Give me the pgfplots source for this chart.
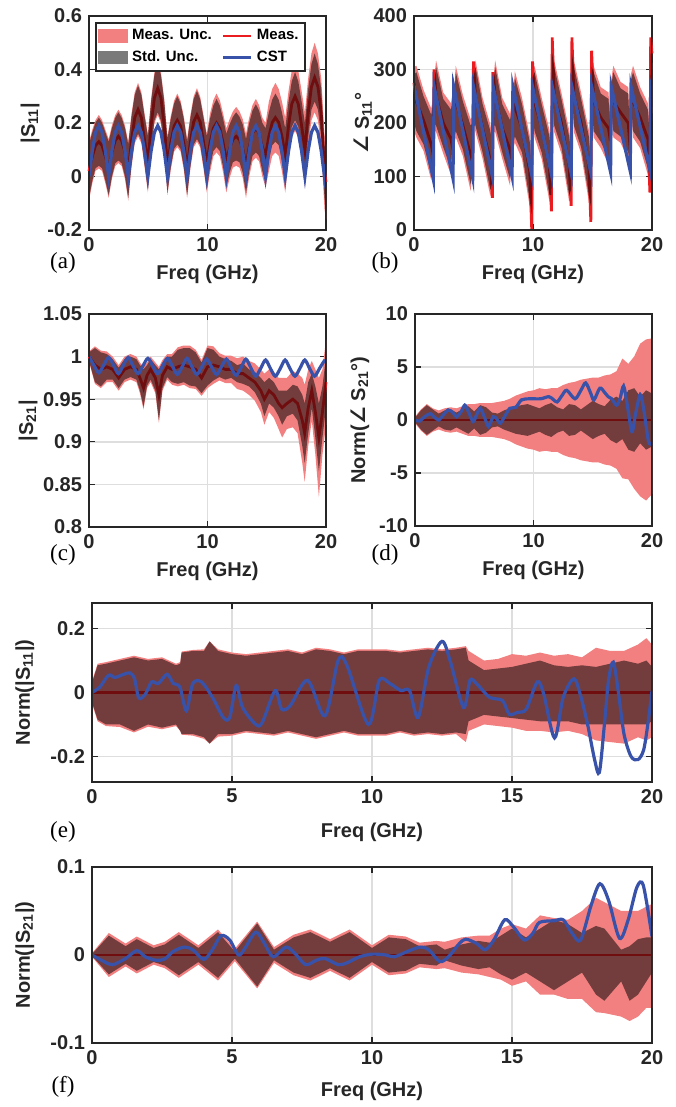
\documentclass[border=0pt]{standalone}
\usepackage{fontspec}
\setmainfont{Liberation Sans}
\newfontfamily\dejavu{DejaVu Sans}
\newfontfamily\tnr{Liberation Serif}
\usepackage{pgfplots}
\usepackage{pgfplotstable}
\pgfplotsset{compat=1.18}
\usepgfplotslibrary{fillbetween}

\definecolor{pinkc}{RGB}{242,128,128}
\definecolor{grayc}{RGB}{122,122,122}
\definecolor{redc}{RGB}{235,28,32}
\definecolor{bluec}{RGB}{55,82,168}
\definecolor{gridc}{RGB}{222,222,222}
\definecolor{axc}{RGB}{38,38,38}

\pgfplotsset{
  sp/.style={
    scale only axis, anchor=south west,
    xmin=0, xmax=20,
    axis line style={line width=1pt, axc},
    tick align=inside, major tick length=3pt,
    every tick/.style={line width=0.6pt, axc},
    grid=major, major grid style={line width=0.8pt, gridc},
    tick label style={font=\fontsize{10}{12}\selectfont\bfseries, text=axc},
    label style={font=\fontsize{10}{12}\selectfont\bfseries, text=axc},
    /pgf/number format/assume math mode=true,
    xlabel={Freq (GHz)},
    xlabel style={at={(axis description cs:0.5,0)}, anchor=center, yshift=-22pt},
  },
  meas/.style={line width=1.4pt, redc, forget plot, on layer=pre main},
  cst/.style={line width=1.6pt, bluec, forget plot},
}

% pink band, red mean, gray band (multiplied), drawn from a table
\newcommand\pinkband[2]{%
  \addplot[draw=none, forget plot, name path=#2PU] table[x=x,y=pu]{#1};
  \addplot[draw=none, forget plot, name path=#2PL] table[x=x,y=pl]{#1};
  \addplot[draw=none, forget plot, name path=#2GU] table[x=x,y=gu]{#1};
  \addplot[draw=none, forget plot, name path=#2GL] table[x=x,y=gl]{#1};
  \addplot[pinkc, draw=none, forget plot] fill between[of=#2PU and #2PL];
}
\newcommand\grayband[1]{%
  \addplot[grayc, draw=none, forget plot, blend mode=multiply] fill between[of=#1GU and #1GL];
}
\newcommand\frameit{\draw[axc, line width=1pt] (rel axis cs:0,0) rectangle (rel axis cs:1,1);}

\pgfplotstableread{
x pu gu m gl pl
0.00 0.13 0.12 0.02 -0.08 -0.09
0.28 0.175 0.165 0.075 -0.015 -0.025
0.55 0.211 0.201 0.116 0.031 0.021
0.83 0.23 0.22 0.13 0.04 0.03
1.10 0.211 0.201 0.116 0.031 0.021
1.38 0.175 0.165 0.075 -0.015 -0.025
1.66 0.14 0.13 0.03 -0.07 -0.08
1.93 0.19 0.18 0.09 0.00 -0.01
2.21 0.229 0.219 0.134 0.049 0.039
2.48 0.25 0.24 0.15 0.06 0.05
2.76 0.229 0.219 0.134 0.049 0.039
3.04 0.19 0.18 0.09 0.00 -0.01
3.31 0.13 0.12 0.02 -0.08 -0.09
3.59 0.235 0.225 0.135 0.045 0.035
3.86 0.315 0.305 0.22 0.135 0.125
4.14 0.35 0.34 0.25 0.16 0.15
4.42 0.315 0.305 0.22 0.135 0.125
4.69 0.235 0.225 0.135 0.045 0.035
4.97 0.16 0.15 0.05 -0.05 -0.06
5.24 0.29 0.28 0.19 0.10 0.09
5.52 0.389 0.379 0.294 0.209 0.199
5.80 0.43 0.42 0.33 0.24 0.23
6.07 0.389 0.379 0.294 0.209 0.199
6.35 0.29 0.28 0.19 0.10 0.09
6.62 0.15 0.14 0.04 -0.06 -0.07
6.90 0.225 0.215 0.125 0.035 0.025
7.18 0.283 0.273 0.188 0.103 0.093
7.45 0.31 0.30 0.21 0.12 0.11
7.73 0.283 0.273 0.188 0.103 0.093
8.00 0.225 0.215 0.125 0.035 0.025
8.28 0.14 0.13 0.03 -0.07 -0.08
8.56 0.23 0.22 0.13 0.04 0.03
8.83 0.299 0.289 0.204 0.119 0.109
9.11 0.33 0.32 0.23 0.14 0.13
9.38 0.299 0.289 0.204 0.119 0.109
9.66 0.23 0.22 0.13 0.04 0.03
9.94 0.16 0.15 0.05 -0.05 -0.06
10.21 0.235 0.215 0.125 0.035 0.015
10.49 0.285 0.265 0.18 0.095 0.075
10.76 0.31 0.29 0.20 0.11 0.09
11.04 0.285 0.265 0.18 0.095 0.075
11.32 0.235 0.215 0.125 0.035 0.015
11.59 0.18 0.16 0.06 -0.04 -0.06
11.87 0.215 0.195 0.105 0.015 -0.005
12.14 0.243 0.223 0.138 0.053 0.033
12.42 0.26 0.24 0.15 0.06 0.04
12.70 0.243 0.223 0.138 0.053 0.033
12.97 0.215 0.195 0.105 0.015 -0.005
13.25 0.16 0.14 0.04 -0.06 -0.08
13.52 0.22 0.20 0.11 0.02 0.00
13.80 0.267 0.247 0.162 0.077 0.057
14.08 0.29 0.27 0.18 0.09 0.07
14.35 0.267 0.247 0.162 0.077 0.057
14.63 0.22 0.20 0.11 0.02 0.00
14.90 0.20 0.18 0.08 -0.02 -0.04
15.18 0.28 0.24 0.15 0.06 0.02
15.46 0.327 0.287 0.202 0.117 0.077
15.73 0.35 0.31 0.22 0.13 0.09
16.01 0.327 0.287 0.202 0.117 0.077
16.28 0.28 0.24 0.15 0.06 0.02
16.56 0.22 0.18 0.08 -0.02 -0.06
16.84 0.32 0.28 0.19 0.10 0.06
17.11 0.396 0.356 0.271 0.186 0.146
17.39 0.43 0.39 0.30 0.21 0.17
17.66 0.396 0.356 0.271 0.186 0.146
17.94 0.32 0.28 0.19 0.10 0.06
18.22 0.24 0.20 0.10 0.00 -0.04
18.49 0.365 0.325 0.235 0.145 0.105
18.77 0.46 0.42 0.335 0.25 0.21
19.04 0.50 0.46 0.37 0.28 0.24
19.32 0.46 0.42 0.335 0.25 0.21
19.60 0.365 0.325 0.235 0.145 0.105
19.87 0.16 0.12 0.02 -0.08 -0.12
20.00 0.12 0.08 -0.02 -0.12 -0.16
}\tA

\pgfplotstableread{
x pu gu m gl pl
0.000 305 290 275 200 185
0.200 307 295 240 185 173
0.800 262 250 205 160 148
1.450 227 215 160 105 93
1.620 252 240 140 170 158
1.685 282 270 300 200 188
1.855 317 305 250 195 183
2.455 257 245 200 155 143
3.105 237 225 170 115 103
3.275 262 250 150 180 168
3.340 247 235 265 165 153
3.510 307 295 240 185 173
4.110 252 240 195 150 138
4.760 207 195 140 85 73
4.930 212 200 100 130 118
4.995 297 285 315 215 203
5.165 317 305 250 195 183
5.765 247 235 190 145 133
6.415 197 185 130 75 63
6.585 172 160 60 90 78
6.650 277 265 295 195 183
6.820 317 305 250 195 183
7.420 247 235 190 145 133
8.070 217 205 150 95 83
8.240 242 230 130 160 148
8.305 242 230 260 160 148
8.475 297 285 230 175 163
9.075 247 235 190 145 133
9.725 177 165 110 55 43
9.895 112 100 0 30 18
9.960 297 285 315 215 203
10.130 307 295 240 185 173
10.730 247 235 190 145 133
11.380 187 175 120 65 53
11.550 147 135 35 65 53
11.615 342 330 360 260 248
11.785 317 305 250 195 183
12.385 257 245 200 155 143
13.035 187 175 120 65 53
13.205 157 145 45 75 63
13.270 342 330 360 260 248
13.440 317 305 250 195 183
14.040 257 245 200 155 143
14.690 187 175 120 65 53
14.860 127 115 15 45 33
14.925 317 305 335 235 223
15.095 307 295 240 185 173
15.695 267 255 210 165 153
16.345 257 245 190 135 123
16.515 197 185 165 145 133
16.580 282 270 250 230 218
16.750 307 295 240 185 173
17.350 277 265 220 175 163
18.000 267 255 200 145 133
18.170 182 170 150 130 118
18.235 292 280 260 240 228
18.405 307 295 240 185 173
19.005 267 255 210 165 153
19.655 237 225 170 115 103
19.825 182 170 70 100 88
19.890 342 330 360 260 248
20.000 312 300 330 230 218
}\tB

\pgfplotstableread{
x pu gu m gl pl
0 1.006 1.005 1.0 0.995 0.994
0.5 1.012 1.01 0.99 0.97 0.968
1.0 1.007 1.005 0.985 0.965 0.963
1.5 1.006 1.003 0.988 0.973 0.97
2.0 1.0 0.997 0.985 0.973 0.97
2.5 0.99 0.987 0.975 0.963 0.96
3.0 1.0 0.997 0.985 0.973 0.97
3.5 1.003 1.0 0.988 0.976 0.973
4.0 1.0 0.997 0.985 0.973 0.97
4.3 0.993 0.99 0.975 0.96 0.957
4.6 0.988 0.985 0.963 0.941 0.938
4.9 0.993 0.99 0.978 0.966 0.963
5.2 1.0 0.997 0.985 0.973 0.97
5.6 0.993 0.99 0.975 0.96 0.957
5.9 0.988 0.985 0.955 0.925 0.922
6.2 0.996 0.993 0.978 0.963 0.96
6.6 1.003 1.0 0.988 0.976 0.973
7.0 1.003 1.0 0.985 0.97 0.967
7.5 1.011 1.008 0.988 0.968 0.965
8.0 1.013 1.01 0.99 0.97 0.967
8.5 1.013 1.01 0.988 0.966 0.963
9.0 1.008 1.005 0.985 0.965 0.962
9.5 0.996 0.993 0.975 0.957 0.954
10.0 1.013 1.01 0.988 0.966 0.963
10.5 1.012 1.008 0.99 0.972 0.968
11.0 1.004 1.0 0.988 0.976 0.972
11.5 1.001 0.997 0.985 0.973 0.969
12.0 1.001 0.995 0.985 0.975 0.969
12.5 0.998 0.99 0.98 0.97 0.962
13.0 1.0 0.992 0.98 0.968 0.96
13.5 0.995 0.985 0.975 0.965 0.955
14.0 0.992 0.982 0.97 0.958 0.948
14.5 0.985 0.975 0.96 0.945 0.935
14.8 0.98 0.97 0.95 0.93 0.92
15.2 0.985 0.975 0.96 0.945 0.935
15.6 0.982 0.97 0.955 0.94 0.928
16.0 0.975 0.96 0.945 0.93 0.915
16.3 0.975 0.96 0.94 0.92 0.905
16.7 0.975 0.96 0.945 0.93 0.915
17.2 0.983 0.967 0.95 0.933 0.917
17.6 0.98 0.965 0.945 0.925 0.91
18.0 0.975 0.955 0.925 0.895 0.875
18.2 0.967 0.945 0.91 0.875 0.853
18.5 0.985 0.97 0.94 0.91 0.895
18.8 0.995 0.98 0.96 0.94 0.925
19.1 0.985 0.965 0.935 0.905 0.885
19.4 0.975 0.945 0.905 0.865 0.835
19.7 0.985 0.965 0.935 0.905 0.885
20.0 1.02 1.0 0.97 0.94 0.92
}\tC

\pgfplotstableread{
x pu gu gl pl
0 0.3 0.2 -0.2 -0.3
0.5 1.0 0.9 -0.9 -1.0
1 1.5 1.4 -1.4 -1.5
1.5 1.1 1.0 -1.0 -1.1
2 0.9 0.6 -0.6 -0.9
2.5 1.1 0.9 -0.9 -1.1
3 1.2 1.0 -1.0 -1.2
3.5 1.1 0.7 -0.7 -1.1
4 1.3 1.0 -1.0 -1.3
4.5 1.5 1.3 -1.3 -1.5
5 1.5 0.8 -0.8 -1.5
5.5 1.6 1.4 -1.4 -1.6
6 1.6 1.2 -1.2 -1.6
6.5 1.6 0.7 -0.7 -1.6
7 1.7 0.6 -0.6 -1.7
7.5 1.8 0.9 -0.9 -1.8
8 2.0 1.1 -1.1 -2.0
8.5 2.3 1.3 -1.3 -2.3
9 2.5 1.4 -1.4 -2.5
9.5 2.7 1.5 -1.5 -2.7
10 2.8 1.3 -1.3 -2.8
10.5 3.0 1.1 -1.1 -3.0
11 2.9 1.4 -1.4 -2.9
11.5 3.0 1.6 -1.6 -3.0
12 3.0 1.2 -1.2 -3.0
12.5 3.3 1.0 -1.0 -3.3
13 3.5 1.5 -1.5 -3.5
13.5 3.6 1.4 -1.4 -3.6
14 3.8 1.0 -1.0 -3.8
14.5 3.9 1.4 -1.4 -3.9
15 4.0 1.8 -1.8 -4.0
15.5 4.0 1.5 -1.5 -4.0
16 4.2 1.3 -1.3 -4.2
16.5 4.3 1.9 -1.9 -4.3
17 4.6 2.2 -2.2 -4.6
17.5 5.8 1.8 -1.8 -5.5
18 5.3 2.8 -2.8 -5.6
18.5 6.0 3.0 -3.0 -6.5
19 7.2 2.2 -2.2 -7.2
19.5 7.6 2.8 -2.8 -7.6
20 7.7 2.5 -2.5 -7.0
}\tD

\pgfplotstableread{
x pu gu gl pl
0 0.035 0.03 -0.03 -0.035
0.2 0.09 0.085 -0.085 -0.09
0.5 0.095 0.09 -0.1 -0.105
1.0 0.105 0.1 -0.1 -0.108
1.5 0.115 0.11 -0.12 -0.125
2.0 0.105 0.1 -0.1 -0.107
2.5 0.11 0.105 -0.11 -0.115
3.0 0.09 0.085 -0.1 -0.105
3.15 0.095 0.09 -0.12 -0.12
3.2 0.128 0.125 -0.13 -0.132
3.6 0.133 0.13 -0.13 -0.135
4.0 0.135 0.13 -0.14 -0.145
4.2 0.16 0.16 -0.16 -0.16
4.5 0.135 0.13 -0.13 -0.138
5.0 0.125 0.12 -0.13 -0.135
5.5 0.12 0.115 -0.12 -0.125
6.0 0.125 0.12 -0.125 -0.13
6.5 0.13 0.125 -0.13 -0.135
7.0 0.135 0.13 -0.12 -0.125
7.5 0.125 0.12 -0.13 -0.135
8.0 0.14 0.135 -0.14 -0.145
8.5 0.135 0.13 -0.13 -0.135
9.0 0.125 0.12 -0.12 -0.125
9.5 0.135 0.13 -0.13 -0.135
10.0 0.135 0.13 -0.13 -0.135
10.5 0.135 0.13 -0.13 -0.135
11.0 0.13 0.125 -0.12 -0.125
11.5 0.135 0.13 -0.13 -0.135
12.0 0.14 0.135 -0.125 -0.13
12.5 0.135 0.13 -0.13 -0.135
13.0 0.14 0.135 -0.125 -0.13
13.35 0.145 0.14 -0.13 -0.155
13.45 0.13 0.1 -0.09 -0.12
14.0 0.1 0.07 -0.07 -0.1
14.5 0.105 0.075 -0.075 -0.105
15.0 0.12 0.08 -0.08 -0.11
15.5 0.115 0.09 -0.085 -0.12
16.0 0.125 0.1 -0.09 -0.12
16.5 0.115 0.085 -0.09 -0.125
17.0 0.12 0.08 -0.09 -0.12
17.5 0.11 0.085 -0.1 -0.13
18.0 0.14 0.08 -0.1 -0.15
18.5 0.13 0.09 -0.1 -0.155
19.0 0.13 0.1 -0.1 -0.16
19.5 0.15 0.09 -0.1 -0.14
19.8 0.17 0.1 -0.1 -0.15
20.0 0.15 0.08 -0.09 -0.14
}\tE

\pgfplotstableread{
x pu gu gl pl
0 0.002 0.001 -0.001 -0.002
0.6 0.025 0.022 -0.022 -0.025
1.2 0.013 0.01 -0.01 -0.013
1.6 0.021 0.018 -0.018 -0.021
2.2 0.011 0.008 -0.008 -0.011
2.6 0.015 0.012 -0.012 -0.015
3.1 0.026 0.023 -0.023 -0.026
3.8 0.011 0.008 -0.008 -0.011
4.5 0.029 0.026 -0.026 -0.029
5.1 0.007 0.004 -0.004 -0.007
5.9 0.038 0.036 -0.036 -0.038
6.5 0.009 0.006 -0.006 -0.009
7.2 0.023 0.02 -0.02 -0.023
7.8 0.029 0.026 -0.026 -0.029
8.5 0.018 0.015 -0.015 -0.018
9.2 0.029 0.026 -0.026 -0.029
10.0 0.011 0.008 -0.008 -0.011
10.6 0.023 0.02 -0.02 -0.023
11.2 0.021 0.018 -0.018 -0.021
11.7 0.014 0.01 -0.01 -0.014
12.3 0.016 0.012 -0.012 -0.016
12.6 0.015 0.006 -0.006 -0.015
13.2 0.02 0.012 -0.012 -0.02
13.8 0.022 0.016 -0.016 -0.022
14.2 0.022 0.014 -0.014 -0.025
14.6 0.03 0.022 -0.022 -0.028
15.0 0.035 0.03 -0.028 -0.035
15.5 0.03 0.02 -0.02 -0.03
16.0 0.045 0.03 -0.03 -0.045
16.5 0.042 0.04 -0.04 -0.045
17.0 0.04 0.035 -0.03 -0.05
17.5 0.05 0.025 -0.02 -0.05
18.0 0.065 0.033 -0.045 -0.065
18.3 0.06 0.03 -0.052 -0.066
18.9 0.05 0.006 -0.03 -0.07
19.2 0.05 0.01 -0.052 -0.075
19.5 0.05 0.018 -0.045 -0.07
19.8 0.055 0.02 -0.03 -0.06
20.0 0.058 0.02 -0.02 -0.06
}\tF

\begin{document}
\begin{tikzpicture}
\path (0,0) rectangle (337.5pt,553.5pt);

% (a) |S11|
\begin{axis}[sp, at={(44.5pt,438.5pt)}, width=118.5pt, height=107pt,
  ymin=-0.2, ymax=0.6, ytick={-0.2,0,0.2,0.4,0.6}, xtick={0,10,20},
  ylabel={|S\textsubscript{11}|},
  ylabel style={at={(axis description cs:-0.249,0.5)}, anchor=center},
  legend columns=2,
  legend style={at={(0.025,0.972)}, anchor=north west, draw=axc, line width=0.9pt,
    fill=white, font=\fontsize{7.5}{8.5}\selectfont\bfseries, inner sep=1.2pt,
    /tikz/every even column/.append style={column sep=3pt}},
  legend cell align=left]
\pinkband{\tA}{a}
\addplot[meas] table[x=x,y=m]{\tA};
\grayband{a}
\addplot[cst] coordinates {
(0.00,0) (0.28,0.095) (0.55,0.165) (0.83,0.19) (1.10,0.165) (1.38,0.095) (1.66,0)
(1.93,0.095) (2.21,0.165) (2.48,0.19) (2.76,0.165) (3.04,0.095) (3.31,0)
(3.59,0.095) (3.86,0.165) (4.14,0.19) (4.42,0.165) (4.69,0.095) (4.97,0)
(5.24,0.095) (5.52,0.165) (5.80,0.19) (6.07,0.165) (6.35,0.095) (6.62,0)
(6.90,0.095) (7.18,0.165) (7.45,0.19) (7.73,0.165) (8.00,0.095) (8.28,0)
(8.56,0.095) (8.83,0.165) (9.11,0.19) (9.38,0.165) (9.66,0.095) (9.94,0)
(10.21,0.095) (10.49,0.165) (10.76,0.19) (11.04,0.165) (11.32,0.095) (11.59,0)
(11.87,0.095) (12.14,0.165) (12.42,0.19) (12.70,0.165) (12.97,0.095) (13.25,0)
(13.52,0.095) (13.80,0.165) (14.08,0.19) (14.35,0.165) (14.63,0.095) (14.90,0)
(15.18,0.095) (15.46,0.165) (15.73,0.19) (16.01,0.165) (16.28,0.095) (16.56,0)
(16.84,0.095) (17.11,0.165) (17.39,0.19) (17.66,0.165) (17.94,0.095) (18.22,0)
(18.49,0.095) (18.77,0.165) (19.04,0.19) (19.32,0.165) (19.60,0.095) (19.87,0)
(20.00,0.045)};
\addlegendimage{legend image code/.code={\fill[pinkc] (0pt,-3pt) rectangle (14pt,3pt);}}
\addlegendentry{Meas. Unc.}
\addlegendimage{legend image code/.code={\draw[redc, line width=1.4pt] (0pt,0pt) -- (14pt,0pt);}}
\addlegendentry{Meas.}
\addlegendimage{legend image code/.code={\fill[grayc] (0pt,-3pt) rectangle (14pt,3pt);}}
\addlegendentry{Std. Unc.}
\addlegendimage{legend image code/.code={\draw[bluec, line width=1.6pt] (0pt,0pt) -- (14pt,0pt);}}
\addlegendentry{CST}
\frameit
\end{axis}

% (b) angle S11
\begin{axis}[sp, at={(207pt,438.5pt)}, width=119pt, height=107pt,
  ymin=0, ymax=400, ytick={0,100,200,300,400}, xtick={0,10,20},
  ylabel={{\dejavu\bfseries ∠} S\textsubscript{11}°},
  ylabel style={at={(axis description cs:-0.214,0.5)}, anchor=center}]
\pinkband{\tB}{b}
\addplot[meas] table[x=x,y=m]{\tB};
\grayband{b}
\addplot[cst] coordinates {
(0,270) (1.62,95) (1.69,268) (3.28,96) (3.34,268) (4.93,97) (5.00,268)
(6.59,99) (6.65,268) (8.24,100) (8.31,268) (9.90,102) (9.96,268)
(11.55,104) (11.62,268) (13.21,106) (13.27,268) (14.86,107) (14.93,268)
(16.52,108) (16.58,268) (18.17,110) (18.24,268) (19.83,112) (19.89,268) (20,258)};
\frameit
\end{axis}

% (c) |S21|
\begin{axis}[sp, at={(44.5pt,290pt)}, width=118.5pt, height=106.5pt,
  ymin=0.8, ymax=1.05, ytick={0.8,0.85,0.9,0.95,1,1.05}, xtick={0,10,20},
  ylabel={|S\textsubscript{21}|},
  ylabel style={at={(axis description cs:-0.257,0.5)}, anchor=center}]
\pinkband{\tC}{c}
\addplot[meas] table[x=x,y=m]{\tC};
\grayband{c}
\addplot[cst, smooth] coordinates {
(0,1.0) (0.41,0.990) (0.83,0.981) (1.24,0.990) (1.66,0.999) (2.07,0.990)
(2.48,0.980) (2.90,0.990) (3.31,0.999) (3.72,0.989) (4.14,0.980) (4.55,0.989)
(4.97,0.998) (5.38,0.989) (5.79,0.980) (6.21,0.989) (6.62,0.998) (7.03,0.989)
(7.45,0.979) (7.86,0.988) (8.28,0.998) (8.69,0.988) (9.10,0.979) (9.52,0.988)
(9.93,0.997) (10.34,0.988) (10.76,0.979) (11.17,0.988) (11.59,0.997) (12.00,0.987)
(12.41,0.978) (12.83,0.987) (13.24,0.997) (13.65,0.987) (14.07,0.977) (14.48,0.986)
(14.90,0.996) (15.31,0.986) (15.72,0.977) (16.14,0.986) (16.55,0.996) (16.96,0.986)
(17.38,0.977) (17.79,0.986) (18.21,0.996) (18.62,0.986) (19.03,0.977) (19.45,0.986)
(19.86,0.995) (20,0.994)};
\frameit
\end{axis}

% (d) Norm(angle S21)
\begin{axis}[sp, at={(207.5pt,290.5pt)}, width=118.5pt, height=106pt,
  ymin=-10, ymax=10, ytick={-10,-5,0,5,10}, xtick={0,10,20},
  ylabel={Norm({\dejavu\bfseries ∠} S\textsubscript{21}°)},
  ylabel style={at={(axis description cs:-0.232,0.5)}, anchor=center}]
\pinkband{\tD}{d}
\addplot[meas] coordinates {(0,0) (20,0)};
\grayband{d}
\addplot[cst, smooth] coordinates {
(0,0) (0.4,-0.1) (0.8,0.3) (1.3,0.6) (1.6,0.3) (2.0,0) (2.4,0.5) (2.8,0.95)
(3.2,0.7) (3.5,0.3) (3.9,0.8) (4.2,1.4) (4.5,0.8) (4.9,-0.15) (5.2,0.5) (5.5,1.1)
(5.85,0.3) (6.2,-0.6) (6.6,0.3) (6.9,0.1) (7.2,-0.3) (7.6,0.4) (8.0,1.1) (8.5,1.2)
(9.0,1.9) (9.7,2.0) (10.6,2.0) (11.3,2.2) (11.7,1.9) (12.0,1.7) (12.4,2.3) (12.8,2.8)
(13.5,2.0) (14.0,2.8) (14.4,3.5) (14.8,2.6) (15.1,1.9) (15.6,3.0) (16.0,2.6) (16.3,2.2)
(16.6,2.0) (17.0,1.4) (17.3,2.0) (17.6,3.2) (17.9,1.5) (18.3,-1.1) (18.6,0.5) (19.0,2.4)
(19.3,1.0) (19.7,-2.0) (20,-2.2)};
\frameit
\end{axis}

% (e) Norm(|S11|)
\begin{axis}[sp, at={(46pt,162.5pt)}, width=280pt, height=89.5pt,
  ymin=-0.28, ymax=0.28, ytick={-0.2,0,0.2}, xtick={0,5,10,15,20},
  xlabel style={yshift=-3pt},
  ylabel={Norm(|S\textsubscript{11}|)},
  ylabel style={at={(axis description cs:-0.12,0.5)}, anchor=center}]
\pinkband{\tE}{e}
\addplot[meas] coordinates {(0,0) (20,0)};
\grayband{e}
\addplot[cst, smooth] coordinates {
(0,0) (0.28,0.017) (0.59,0.054) (0.82,0.047) (1.13,0.057) (1.36,0.061) (1.52,0.043)
(1.67,-0.017) (1.9,-0.006) (2.13,0.033) (2.37,0.028) (2.68,0.057) (2.91,0.028)
(3.14,0.017) (3.37,-0.057) (3.6,0.028) (3.91,0.033) (4.3,-0.015) (4.69,-0.078)
(4.92,-0.078) (5.15,0.022) (5.38,-0.047) (5.85,-0.1) (6.08,-0.094) (6.54,0.006)
(6.77,-0.052) (7.08,-0.041) (7.7,0.038) (8.32,-0.073) (8.79,0.1) (9.1,0.086)
(9.87,-0.1) (10.26,0.038) (10.64,0.028) (11.03,0.006) (11.34,0.006) (11.65,-0.078)
(12.03,0.08) (12.5,0.16) (12.8,0.096) (13.27,-0.047) (13.5,0.038) (13.73,0.028)
(14.2,-0.015) (14.66,-0.025) (14.9,-0.068) (15.2,-0.062) (15.51,-0.052) (15.9,0.033)
(16.13,-0.004) (16.52,-0.142) (16.83,-0.015) (17.21,0.043) (17.45,-0.01) (17.7,-0.1)
(17.95,-0.21) (18.12,-0.25) (18.3,-0.1) (18.45,0.04) (18.62,0.095) (18.8,0.0)
(19.0,-0.13) (19.25,-0.2) (19.5,-0.21) (19.7,-0.18) (19.85,-0.1) (20,0.005)};
\frameit
\end{axis}

% (f) Norm(|S21|)
\begin{axis}[sp, at={(46pt,32pt)}, width=280pt, height=88pt,
  ymin=-0.1, ymax=0.1, ytick={-0.1,0,0.1}, xtick={0,5,10,15,20},
  xlabel style={yshift=-2pt},
  ylabel={Norm(|S\textsubscript{21}|)},
  ylabel style={at={(axis description cs:-0.12,0.5)}, anchor=center}]
\pinkband{\tF}{f}
\addplot[meas] coordinates {(0,0) (20,0)};
\grayband{f}
\addplot[cst, smooth] coordinates {
(0,0) (0.43,-0.0075) (0.74,-0.011) (1.2,-0.004) (1.6,0.005) (1.9,-0.002) (2.29,-0.006)
(2.6,-0.0045) (2.9,0.004) (3.29,0.009) (3.6,0.006) (3.99,-0.005) (4.3,0.006)
(4.61,0.022) (4.92,0.017) (5.23,0) (5.46,0.0075) (5.85,0.026) (6.16,0.013)
(6.47,-0.002) (6.93,0.009) (7.24,0.002) (7.63,-0.011) (8.01,-0.006) (8.32,-0.004)
(8.79,-0.011) (9.1,-0.009) (9.56,-0.002) (10.02,0.001) (10.49,0) (10.8,-0.002)
(11.26,0.004) (11.72,0.009) (12.03,0.006) (12.42,-0.0075) (12.73,-0.002) (13.12,0.013)
(13.35,0.018) (13.74,0.013) (14.04,0.006) (14.35,0.017) (14.74,0.04) (15.05,0.032)
(15.44,0.017) (15.75,0.025) (15.98,0.037) (16.52,0.039) (16.83,0.04) (17.14,0.025)
(17.45,0.017) (17.83,0.057) (18.14,0.081) (18.45,0.062) (18.84,0.019) (19.15,0.04)
(19.46,0.077) (19.69,0.079) (20,0.021)};
\frameit
\end{axis}

\node[font={\tnr\fontsize{11.5}{13}\selectfont}] at (31.5pt,422pt) {(a)};
\node[font={\tnr\fontsize{11.5}{13}\selectfont}] at (192.5pt,422pt) {(b)};
\node[font={\tnr\fontsize{11.5}{13}\selectfont}] at (31.5pt,276pt) {(c)};
\node[font={\tnr\fontsize{11.5}{13}\selectfont}] at (192.5pt,276pt) {(d)};
\node[font={\tnr\fontsize{11.5}{13}\selectfont}] at (31.5pt,137.5pt) {(e)};
\node[font={\tnr\fontsize{11.5}{13}\selectfont}] at (31.5pt,10pt) {(f)};
\end{tikzpicture}
\end{document}
